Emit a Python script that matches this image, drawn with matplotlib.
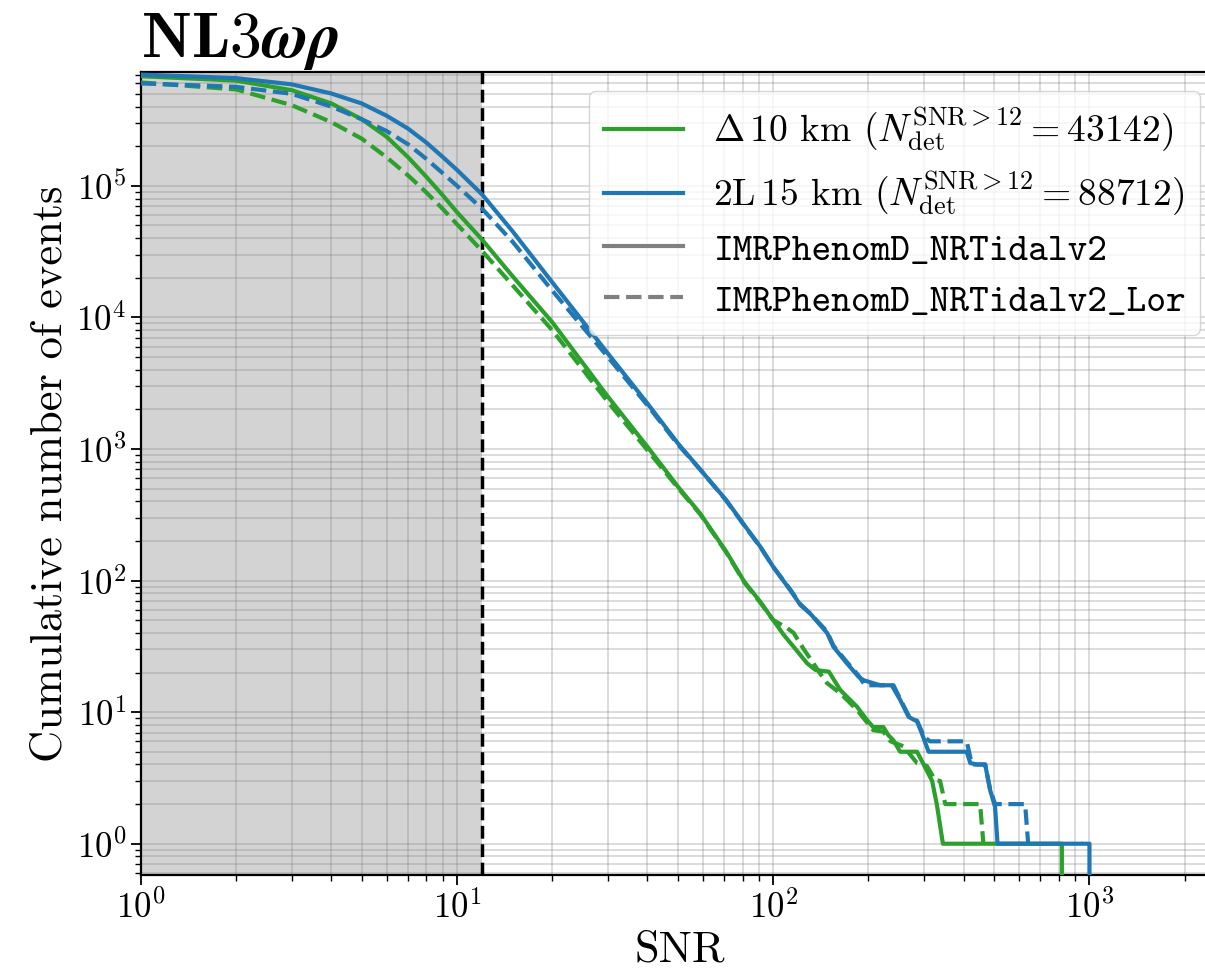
import numpy as np
import matplotlib
matplotlib.use("Agg")
import matplotlib.pyplot as plt
from matplotlib.lines import Line2D

plt.rcParams.update({
    "font.family": "serif",
    "font.serif": ["cmr10"],
    "mathtext.fontset": "cm",
    "axes.formatter.use_mathtext": True,
    "axes.unicode_minus": False,
})

SNR_CUT = 12

# Delta 10 km, IMRPhenomD_NRTidalv2 (solid)
snr_d10 = [1, 2, 3, 4, 5, 6, 7, 8, 9, 10, 12, 15, 20, 30, 40, 50, 58.7, 71, 81,
           91, 100, 108, 116, 128, 136, 150, 163, 184, 198, 207, 223, 231, 240,
           252, 285, 299, 318, 329, 344, 818, 818]
n_d10 = [6.8e5, 6.3e5, 5.33e5, 4.23e5, 3.2e5, 2.35e5, 1.65e5, 1.17e5, 8.5e4,
         6.3e4, 3.9e4, 2.05e4, 9.2e3, 2.5e3, 1.04e3, 516, 324, 166, 98,
         69, 50, 38.6, 31.4, 23.5, 20.9, 20.3, 14.7, 11, 8.7, 7.7, 7.7, 6.7, 6.1,
         5, 5, 4, 3, 2, 1, 1, 0]

# Delta 10 km, IMRPhenomD_NRTidalv2_Lor (dashed)
snr_d10_lor = [1, 2, 3, 4, 5, 6, 7, 8, 9, 10, 12, 15, 20, 30, 40, 50, 58.7, 71,
               81, 91, 100, 110, 116, 125, 134, 140, 148, 163, 184, 207, 223,
               235, 258, 285, 306, 325, 337, 350, 451, 462]
n_d10_lor = [6.1e5, 5.4e5, 4.1e5, 3.05e5, 2.28e5, 1.64e5, 1.2e5, 8.9e4, 6.7e4,
             5.1e4, 3.2e4, 1.75e4, 8.0e3, 2.28e3, 980, 505, 320, 164,
             97, 68, 50, 44, 40, 30, 23.5, 20, 16.6, 13.9, 10.4, 7.3, 7.1,
             6, 5.5, 4.1, 3.9, 3.05, 3, 2, 2, 1]

# 2L 15 km, IMRPhenomD_NRTidalv2 (solid)
snr_2l15 = [1, 2, 3, 4, 5, 6, 7, 8, 9, 10, 12, 15, 20, 30, 40, 50, 58.7, 71, 81,
            91, 100, 113, 122, 131, 148, 155, 171, 186, 193, 207, 218, 237, 252,
            268, 285, 295, 310, 409, 420, 441, 468, 485, 503, 512, 1000, 1000]
n_2l15 = [7.0e5, 6.58e5, 5.9e5, 5.03e5, 4.22e5, 3.4e5, 2.72e5, 2.13e5, 1.66e5,
          1.32e5, 8.6e4, 4.5e4, 1.85e4, 5.32e3, 2.22e3, 1.10e3, 700, 409, 264,
          181, 127, 85, 65, 56, 40, 31.4, 23.5, 18.6, 17.5, 16.6, 16, 16, 12.4,
          9.2, 8.5, 6.9, 5, 5, 4.1, 4, 4, 2.56, 1.9, 1, 1, 0]

# 2L 15 km, IMRPhenomD_NRTidalv2_Lor (dashed)
snr_2l15_lor = [1, 2, 3, 4, 5, 6, 7, 8, 9, 10, 12, 15, 20, 30, 40, 50, 58.7, 71,
                81, 91, 100, 113, 122, 131, 148, 155, 171, 186, 195, 240, 252,
                268, 285, 300, 313, 409, 425, 468, 485, 503, 626, 640]
n_2l15_lor = [6.0e5, 5.65e5, 5.0e5, 4.0e5, 3.2e5, 2.6e5, 2.07e5, 1.6e5, 1.25e5,
              1.0e5, 6.7e4, 3.75e4, 1.6e4, 5.0e3, 2.15e3, 1.08e3, 700, 405,
              262, 180, 127, 86, 66, 56, 41, 32, 24, 19, 16, 16, 12.6, 9.4,
              8.6, 6.5, 6, 6, 4, 4, 2.6, 2, 2, 1]

N_DET_D10 = 43142
N_DET_2L15 = 88712

GREEN = "#2ca02c"
BLUE = "#1f77b4"

fig = plt.figure(figsize=(12.05, 9.74), dpi=100)
# axes runs slightly past the right edge, as in the (cropped) original
ax = fig.add_axes([0.1168, 0.1016, 0.8949, 0.8247])

ax.axvspan(1, SNR_CUT, color="lightgray", zorder=0, lw=0)
ax.axvline(SNR_CUT, color="black", ls="--", lw=2.5, zorder=3)

ax.plot(snr_d10, n_d10, color=GREEN, lw=3, zorder=4)
ax.plot(snr_d10_lor, n_d10_lor, color=GREEN, lw=3, ls="--", zorder=4)
ax.plot(snr_2l15, n_2l15, color=BLUE, lw=3, zorder=4)
ax.plot(snr_2l15_lor, n_2l15_lor, color=BLUE, lw=3, ls="--", zorder=4)

ax.set_xscale("log")
ax.set_yscale("log")
ax.set_xlim(1, 2570)
ax.set_ylim(0.578, 7.35e5)

ax.grid(True, which="both", color="gray", alpha=0.3, lw=1.3, zorder=1)
ax.set_axisbelow(True)
ax.spines["right"].set_visible(False)
for s in ["left", "bottom", "top"]:
    ax.spines[s].set_linewidth(1.6)
ax.tick_params(which="major", labelsize=25, length=7, width=1.3)
ax.tick_params(which="minor", length=4, width=1.0)

ax.set_xlabel("SNR", fontsize=32)
ax.set_ylabel("Cumulative number of events", fontsize=32)
ax.set_title(r"$\mathbf{NL3}\boldsymbol{\omega\rho}$", loc="left", fontsize=46, pad=6)

handles = [
    Line2D([], [], color=GREEN, lw=3),
    Line2D([], [], color=BLUE, lw=3),
    Line2D([], [], color="gray", lw=3),
    Line2D([], [], color="gray", lw=3, ls="--"),
]
labels = [
    r"$\Delta\,10$ km ($N_{\rm det}^{\rm SNR{>}12} = %d$)" % N_DET_D10,
    r"$2{\rm L}\,15$ km ($N_{\rm det}^{\rm SNR{>}12} = %d$)" % N_DET_2L15,
    "IMRPhenomD_NRTidalv2",
    "IMRPhenomD_NRTidalv2_Lor",
]
leg = ax.legend(handles, labels, loc="upper right", fontsize=27, framealpha=0.8,
                handlelength=2.1, labelspacing=0.42, borderaxespad=0.5)
for t in leg.get_texts()[2:]:
    t.set_fontfamily("cmtt10")
    t.set_fontsize(27)

fig.savefig("out.png", dpi=100)
